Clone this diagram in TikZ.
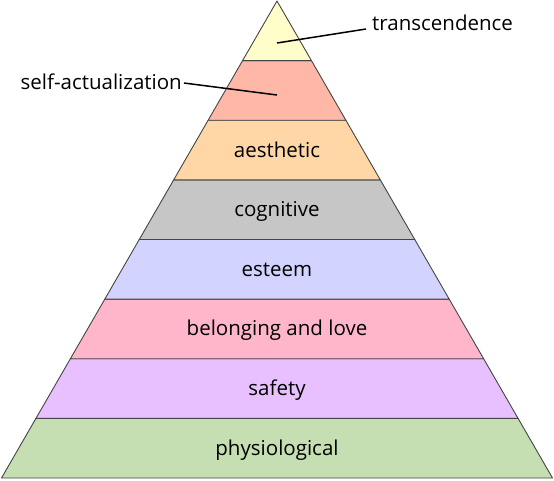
\documentclass[tikz,border=0pt]{standalone}
\usepackage{fontspec}
\setmainfont{Open Sans}
\usepackage{xcolor}

\definecolor{outline}{HTML}{444444}
\definecolor{transcol}{HTML}{FFFDCA}
\definecolor{selfcol}{HTML}{FFB7A8}
\definecolor{aestcol}{HTML}{FFD6A6}
\definecolor{cogcol}{HTML}{C6C6C6}
\definecolor{estcol}{HTML}{D2D4FF}
\definecolor{belcol}{HTML}{FFB6CB}
\definecolor{safecol}{HTML}{E8BFFF}
\definecolor{physcol}{HTML}{C5DFB3}

\begin{document}
\begin{tikzpicture}[
  x=1pt, y=-1pt,
  band/.style={
    draw=outline, line width=0.9pt, line join=round
  },
  lbl/.style={
    font=\fontsize{20.5}{24}\selectfont, inner sep=0pt, anchor=base
  },
  lead/.style={line width=1.5pt, black},
]
\useasboundingbox (0,0) rectangle (554,480);
\def\apex{1}
\def\base{478}
\def\slope{0.57757} % half width of base / height
\def\sep{59.625}
% bands, bottom to top
\foreach \col [count=\i from 0] in {physcol,safecol,belcol,estcol,cogcol,aestcol,selfcol,transcol}{
  \pgfmathsetmacro\yb{\base-\i*\sep}
  \pgfmathsetmacro\yt{\base-(\i+1)*\sep}
  \pgfmathsetmacro\wb{\slope*(\yb-\apex)}
  \pgfmathsetmacro\wt{\slope*(\yt-\apex)}
  \filldraw[band, fill=\col] (277-\wb,\yb) -- (277+\wb,\yb) -- (277+\wt,\yt) -- (277-\wt,\yt) -- cycle;
}
\node[lbl] (phys) at (277, 455) {physiological};
\node[lbl] (safe) at (277, 395) {safety};
\node[lbl] (bel)  at (277, 335) {belonging and love};
\node[lbl] (est)  at (277, 276) {esteem};
\node[lbl] (cog)  at (277, 216) {cognitive};
\node[lbl] (aest) at (277, 157) {aesthetic};
\node[lbl, anchor=base west] (trans) at (372, 30) {transcendence};
\node[lbl, anchor=base east] (self)  at (182, 89) {self-actualization};
\coordinate (transpt) at (277, 43);
\coordinate (selfpt)  at (277, 95);
\draw[lead] (transpt) -- ([xshift=-6pt,yshift=1pt]trans.base west);
\draw[lead] ([xshift=2pt,yshift=6pt]self.base east) -- (selfpt);
\end{tikzpicture}
\end{document}
